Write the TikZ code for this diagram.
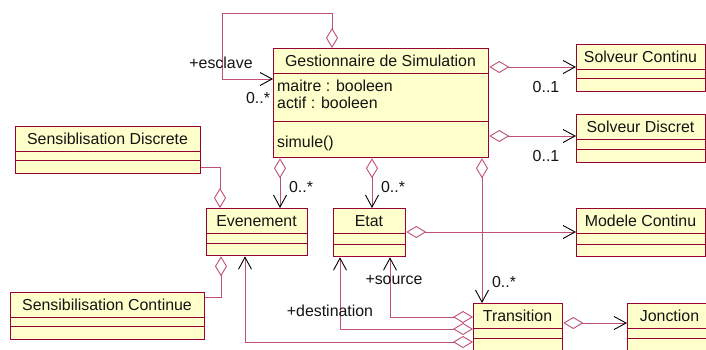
\documentclass[tikz,border=0pt]{standalone}
\usepackage{fontspec}
\setmainfont{Liberation Sans}
\usetikzlibrary{arrows.meta,calc}
\definecolor{boxfill}{RGB}{255,255,204}
\definecolor{boxline}{RGB}{153,0,51}
\definecolor{lnkcol}{RGB}{192,80,120}
\definecolor{txt}{RGB}{20,20,20}
\tikzset{
  umlbox/.style={draw=boxline, fill=boxfill, line width=1.3pt, inner sep=0pt},
  sepline/.style={draw=boxline, line width=0.9pt},
  ttl/.style={font=\fontsize{15.9}{18}\selectfont, text=txt, inner sep=0pt},
  attr/.style={font=\fontsize{15.9}{18}\selectfont, text=txt, inner sep=0pt, anchor=west},
  lbl/.style={font=\fontsize{15.9}{18}\selectfont, text=txt, inner sep=0pt},
  lnk/.style={draw=lnkcol, line width=0.9pt},
  dia/.tip={Diamond[fill=white, length=20pt, width=12pt, color=lnkcol]},
  barb/.tip={Straight Barb[color=black, length=12pt, width=13pt, line width=0.9pt]},
}
\newcommand{\umlcls}[8]{%
  % #1 name, #2 x1, #3 y1, #4 x2, #5 y2, #6 sep1, #7 sep2, #8 title
  \node[umlbox, minimum width={(#4-#2)*1pt}, minimum height={(#5-#3)*1pt}, anchor=north west] (#1) at (#2,#3) {};
  \draw[sepline] (#2,#6) -- (#4,#6);
  \draw[sepline] (#2,#7) -- (#4,#7);
  \node[ttl] (#1t) at ({(#2+#4)/2},{(#3+#6)/2+0.5}) {#8};
}
\begin{document}
\begin{tikzpicture}[x=1pt,y=-1pt]
\clip (0,0) rectangle (706,349);
\fill[white] (0,0) rectangle (706,349);

% classes
\umlcls{G}{273}{48}{488}{157}{73}{121}{Gestionnaire de Simulation}
\node[attr] (ga1) at (277,86) {maitre : booleen};
\node[attr] (ga2) at (277,103) {actif : booleen};
\node[attr] (gm1) at (277,143) {simule()};
\umlcls{SC}{576}{44}{705}{91}{69}{78}{Solveur Continu}
\umlcls{SD}{576}{114}{705}{162}{139}{149}{Solveur Discret}
\umlcls{SDi}{15}{126}{200}{173}{151}{160}{Sensiblisation Discrete}
\umlcls{Ev}{206}{208}{307}{255}{233}{243}{Evenement}
\umlcls{Et}{333}{208}{405}{256}{233}{244}{Etat}
\umlcls{MC}{576}{208}{705}{256}{233}{244}{Modele Continu}
\umlcls{SCo}{10}{292}{204}{339}{317}{326}{Sensibilisation Continue}
\umlcls{Tr}{473}{303}{562}{362}{328}{338}{Transition}
\umlcls{Jo}{627}{303}{712}{362}{328}{338}{Jonction}

% connectors
\draw[lnk, dia-barb] (G.north -| 332,0) -- (332,13) -| (222,79) -- (G.west |- 0,79);
\draw[lnk, dia-barb] (G.east |- 0,67) -- (SC.west |- 0,67);
\draw[lnk, dia-barb] (G.east |- 0,136) -- (SD.west |- 0,136);
\draw[lnk, -dia] (SDi.east |- 0,167) -| (Ev.north -| 220,0);
\draw[lnk, dia-barb] (G.south -| 280,0) -- (Ev.north -| 280,0);
\draw[lnk, dia-barb] (G.south -| 372,0) -- (Et.north -| 372,0);
\draw[lnk, dia-barb] (G.south -| 482,0) -- (Tr.north -| 482,0);
\draw[lnk, dia-barb] (Et.east |- 0,232) -- (MC.west |- 0,232);
\draw[lnk, -dia] (SCo.east |- 0,297) -| (Ev.south -| 221,0);
\draw[lnk, dia-barb] (Tr.east |- 0,323) -- (Jo.west |- 0,323);
\draw[lnk, dia-barb] (Tr.west |- 0,317) -| (Et.south -| 390,0);
\draw[lnk, dia-barb] (Tr.west |- 0,329) -| (Et.south -| 340,0);
\draw[lnk, dia-barb] (Tr.west |- 0,342) -| (Ev.south -| 245,0);

% labels
\node[lbl] (l1) at (221,63) {+esclave};
\node[lbl] (l2) at (258,98) {0..*};
\node[lbl] (l3) at (546,87) {0..1};
\node[lbl] (l4) at (546,156) {0..1};
\node[lbl] (l5) at (301,187) {0..*};
\node[lbl] (l6) at (393,187) {0..*};
\node[lbl] (l7) at (504,282) {0..*};
\node[lbl] (l8) at (394,280) {+source};
\node[lbl] (l9) at (330,311) {+destination};
\end{tikzpicture}
\end{document}
